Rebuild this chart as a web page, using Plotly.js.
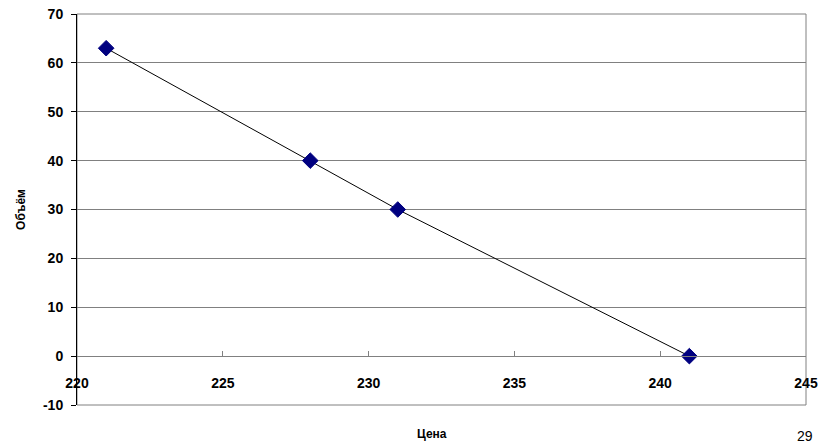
<!DOCTYPE html>
<html><head><meta charset="utf-8">
<script src="https://cdn.plot.ly/plotly-3.0.1.min.js"></script>
<style>html,body{margin:0;padding:0;background:#fff}</style>
</head><body><div id="chart" style="width:825px;height:448px"></div>
<script>
const price = [221, 228, 231, 241];
const volume = [63, 40, 30, 0];
const xTicks = [220, 225, 230, 235, 240, 245];
const yTicks = [-10, 0, 10, 20, 30, 40, 50, 60, 70];
const xTitle = 'Цена';
const yTitle = 'Объём';
const pageNumber = '29';

const fontFam = 'Liberation Sans, Arial, sans-serif';
const trace = {
  x: price, y: volume, type: 'scatter', mode: 'lines+markers',
  line: {color: '#000000', width: 1},
  marker: {symbol: 'diamond', size: 12, color: '#000080', line: {color: '#000080', width: 1}},
  cliponaxis: false
};
const layout = {
  width: 825, height: 448,
  margin: {l: 77, r: 19, t: 14, b: 43},
  paper_bgcolor: '#fff', plot_bgcolor: '#fff',
  showlegend: false,
  font: {family: fontFam, color: '#000'},
  xaxis: {
    range: [220, 245], tickvals: xTicks, ticktext: xTicks.map(String),
    anchor: 'free', position: 0.125,
    showgrid: false, zeroline: false,
    showline: true, linecolor: '#808080', linewidth: 1,
    ticks: 'inside', ticklen: 5, tickcolor: '#808080', tickwidth: 1,
    ticklabelstandoff: 14,
    tickfont: {family: fontFam, size: 14, color: '#000', weight: 'bold'}
  },
  yaxis: {
    range: [-10, 70], tickvals: yTicks, ticktext: yTicks.map(String),
    showgrid: true, gridcolor: '#808080', gridwidth: 1, zeroline: false,
    showline: true, linecolor: '#000', linewidth: 1,
    ticks: 'outside', ticklen: 5, tickcolor: '#000', tickwidth: 1,
    ticklabelstandoff: 5,
    tickfont: {family: fontFam, size: 14, color: '#000', weight: 'bold'},
    title: {text: yTitle, font: {family: fontFam, size: 12, color: '#000', weight: 'bold'}, standoff: 14}
  },
  shapes: [{type: 'rect', xref: 'paper', yref: 'paper', x0: 0, x1: 1, y0: 0, y1: 1,
    line: {color: '#808080', width: 1}, layer: 'below'}],
  annotations: [
    {text: xTitle, xref: 'paper', yref: 'paper', x: 0.487, y: -0.075, yanchor: 'middle', xanchor: 'center',
     showarrow: false, font: {family: fontFam, size: 12, color: '#000', weight: 'bold'}},
    {text: pageNumber, xref: 'paper', yref: 'paper', x: 1.012, y: -0.08, yanchor: 'middle', xanchor: 'right',
     showarrow: false, font: {family: fontFam, size: 14, color: '#000'}}
  ]
};
Plotly.newPlot('chart', [trace], layout, {displayModeBar: false, staticPlot: true});
</script></body></html>
